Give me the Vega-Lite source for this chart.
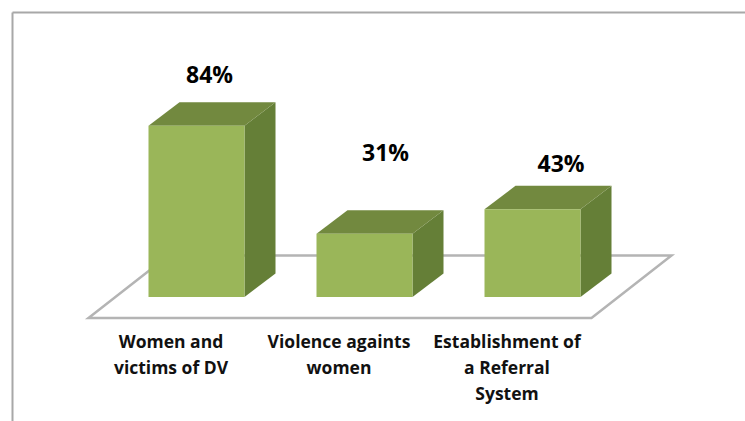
{
  "$schema": "https://vega.github.io/schema/vega-lite/v6.json",
  "width": 733,
  "height": 409,
  "autosize": "none",
  "padding": {"left": 12, "top": 12, "right": 0, "bottom": 0},
  "background": "#ffffff",
  "view": {"stroke": null},
  "config": {"text": {"font": "Open Sans"}},
  "data": {
    "values": [
      {"category": "Women and\nvictims of DV", "value": 0.84},
      {"category": "Violence againts\nwomen", "value": 0.31},
      {"category": "Establishment of\na Referral\nSystem", "value": 0.43}
    ]
  },
  "encoding": {
    "x": {
      "field": "category",
      "type": "nominal",
      "scale": {
        "type": "band",
        "domain": ["Women and\nvictims of DV", "Violence againts\nwomen", "Establishment of\na Referral\nSystem"],
        "paddingInner": 0.42857,
        "paddingOuter": 0.8958,
        "align": 0.4535
      },
      "axis": {"orient": "top", "title": null, "labels": false, "ticks": false, "grid": false, "domainColor": "#a8a8a8", "domainWidth": 2}
    }
  },
  "layer": [
    {
      "description": "Floor plate of the 3D chart, anchored under the middle column",
      "transform": [{"filter": "datum.value == 0.31"}],
      "mark": {
        "type": "point",
        "filled": true,
        "fill": "#ffffff",
        "stroke": "#b4b4b4",
        "strokeWidth": 2.5,
        "opacity": 1,
        "size": 4,
        "shape": "M-276,21L227,21L307,-41.5L-196,-41.5Z"
      },
      "encoding": {
        "y": {
          "datum": 0,
          "type": "quantitative",
          "scale": {"domain": [-0.6078, 1.397], "nice": false, "zero": false},
          "axis": {"title": null, "labels": false, "ticks": false, "grid": false, "domainColor": "#a8a8a8", "domainWidth": 2}
        }
      }
    },
    {
      "description": "Side face of each column",
      "mark": {"type": "point", "filled": true, "color": "#657f37", "opacity": 1, "size": 4},
      "encoding": {
        "y": {"field": "value", "type": "quantitative"},
        "shape": {
          "field": "category",
          "type": "nominal",
          "legend": null,
          "scale": {
            "domain": ["Women and\nvictims of DV", "Violence againts\nwomen", "Establishment of\na Referral\nSystem"],
            "range": [
              "M48,0L79,-23.5L79,147.9L48,171.4Z",
              "M48,0L79,-23.5L79,39.7L48,63.2Z",
              "M48,0L79,-23.5L79,64.2L48,87.7Z"
            ]
          }
        }
      }
    },
    {
      "description": "Top face of each column",
      "mark": {
        "type": "point",
        "filled": true,
        "color": "#72893f",
        "opacity": 1,
        "size": 4,
        "shape": "M-48,0L48,0L79,-23.5L-17,-23.5Z"
      },
      "encoding": {"y": {"field": "value", "type": "quantitative"}}
    },
    {
      "description": "Front face of each column",
      "mark": {"type": "bar", "color": "#9ab659"},
      "encoding": {"y": {"field": "value", "type": "quantitative"}}
    },
    {
      "description": "Category captions below the floor",
      "mark": {
        "type": "text",
        "lineBreak": "\n",
        "lineHeight": 26,
        "fontSize": 17.5,
        "fontWeight": "bold",
        "color": "#111111",
        "baseline": "alphabetic",
        "align": "center",
        "dx": -25.5
      },
      "encoding": {
        "y": {"datum": -0.25, "type": "quantitative"},
        "text": {"field": "category", "type": "nominal"}
      }
    },
    {
      "transform": [{"filter": "datum.value == 0.84"}],
      "mark": {"type": "text", "fontSize": 23, "fontWeight": "bold", "color": "#000000", "baseline": "alphabetic", "dx": 13, "dy": -42.6},
      "encoding": {
        "y": {"field": "value", "type": "quantitative"},
        "text": {"field": "value", "type": "quantitative", "format": ".0%"}
      }
    },
    {
      "transform": [{"filter": "datum.value == 0.31"}],
      "mark": {"type": "text", "fontSize": 23, "fontWeight": "bold", "color": "#000000", "baseline": "alphabetic", "dx": 21, "dy": -73},
      "encoding": {
        "y": {"field": "value", "type": "quantitative"},
        "text": {"field": "value", "type": "quantitative", "format": ".0%"}
      }
    },
    {
      "transform": [{"filter": "datum.value == 0.43"}],
      "mark": {"type": "text", "fontSize": 23, "fontWeight": "bold", "color": "#000000", "baseline": "alphabetic", "dx": 28.5, "dy": -37},
      "encoding": {
        "y": {"field": "value", "type": "quantitative"},
        "text": {"field": "value", "type": "quantitative", "format": ".0%"}
      }
    }
  ]
}
